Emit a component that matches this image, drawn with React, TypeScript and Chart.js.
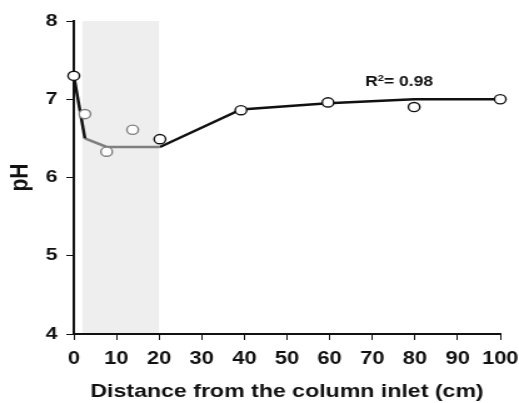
import React, { useEffect, useRef } from "react";
import { Chart, registerables } from "chart.js";

Chart.register(...registerables);

// ---- data ----
const measuredX = [0, 20.2, 39.2, 59.6, 79.8, 100];
const measuredY = [7.3, 6.49, 6.86, 6.96, 6.9, 7.0];
const zoneX = [2.6, 7.7, 13.8];
const zoneY = [6.81, 6.33, 6.61];
const fitInletX = [0, 2.6];
const fitInletY = [7.3, 6.5];
const fitZoneX = [2.6, 7.7, 20.2];
const fitZoneY = [6.5, 6.39, 6.39];
const fitDownX = [20.2, 39.2, 59.6, 79.8, 100];
const fitDownY = [6.39, 6.87, 6.95, 7.0, 7.0];
const xTickValues = [0, 10, 20, 30, 40, 50, 60, 70, 80, 90, 100];
const yTickValues = [4, 5, 6, 7, 8];
const shadedZone = [2, 20];
const r2Value = "0.98";

// ---- layout (figure is horizontally stretched) ----
const PAGE_W = 519;
const PAGE_H = 403;
const STRETCH = 1.25;
const CANVAS_W = Math.round(PAGE_W / STRETCH);
const R2_AT = { x: 68.3, y: 7.17 };

const FONT = '"Liberation Sans", Arial, Helvetica, sans-serif';
const INK = "#111111";
const GRAY = "#7f7f7f";

const pts = (xs: number[], ys: number[]) => xs.map((v, i) => ({ x: v, y: ys[i] }));

const shadePlugin = {
  id: "shade",
  beforeDraw(chart: any) {
    const { ctx, chartArea, scales } = chart;
    const x0 = scales.x.getPixelForValue(shadedZone[0]);
    const x1 = scales.x.getPixelForValue(shadedZone[1]);
    ctx.save();
    ctx.fillStyle = "#eeeeee";
    ctx.fillRect(x0, chartArea.top, x1 - x0, chartArea.bottom - chartArea.top);
    ctx.restore();
  },
};

const r2Plugin = {
  id: "r2",
  afterDatasetsDraw(chart: any) {
    const { ctx, scales } = chart;
    const px = scales.x.getPixelForValue(R2_AT.x);
    const py = scales.y.getPixelForValue(R2_AT.y);
    ctx.save();
    ctx.fillStyle = INK;
    ctx.textAlign = "left";
    ctx.textBaseline = "alphabetic";
    ctx.font = `bold 14px ${FONT}`;
    ctx.fillText("R", px, py);
    let w = ctx.measureText("R").width;
    ctx.font = `bold 9px ${FONT}`;
    ctx.fillText("2", px + w, py - 5);
    w += ctx.measureText("2").width;
    ctx.font = `bold 14px ${FONT}`;
    ctx.fillText("= " + r2Value, px + w, py);
    ctx.restore();
  },
};

export default function App() {
  const canvasRef = useRef<HTMLCanvasElement | null>(null);

  useEffect(() => {
    if (!canvasRef.current) return;
    const pointStyle = {
      pointRadius: 4.6,
      pointBorderWidth: 1.4,
      pointBackgroundColor: "#ffffff",
      showLine: false,
      clip: false,
    };
    const lineStyle = { showLine: true, pointRadius: 0, borderWidth: 2.5, clip: false };
    const chart = new Chart(canvasRef.current, {
      type: "scatter",
      data: {
        datasets: [
          { data: pts(measuredX, measuredY), ...pointStyle, pointBorderColor: INK },
          { data: pts(zoneX, zoneY), ...pointStyle, pointBorderColor: GRAY },
          { data: pts(fitInletX, fitInletY), ...lineStyle, borderColor: INK },
          { data: pts(fitZoneX, fitZoneY), ...lineStyle, borderColor: GRAY },
          { data: pts(fitDownX, fitDownY), ...lineStyle, borderColor: INK },
        ],
      },
      options: {
        responsive: false,
        animation: false,
        layout: { padding: { top: 21, right: 15, bottom: 0, left: 0 } },
        plugins: { legend: { display: false }, tooltip: { enabled: false } },
        scales: {
          x: {
            type: "linear",
            min: 0,
            max: 100,
            afterBuildTicks: (scale: any) => {
              scale.ticks = xTickValues.map((v) => ({ value: v }));
            },
            afterFit: (scale: any) => {
              scale.height = 69;
              scale.paddingLeft = 0;
              scale.paddingRight = 0;
            },
            border: { display: true, color: INK, width: 2 },
            grid: { drawOnChartArea: false, drawTicks: true, tickLength: 6, color: INK, lineWidth: 1 },
            ticks: {
              color: INK,
              padding: 9,
              maxRotation: 0,
              font: { family: FONT, size: 17.5, weight: "bold" },
            },
            title: {
              display: true,
              text: "Distance from the column inlet (cm)",
              color: INK,
              padding: { top: 0, bottom: 0 },
              font: { family: FONT, size: 18.5, weight: "bold" },
            },
          },
          y: {
            type: "linear",
            min: 4,
            max: 8,
            afterBuildTicks: (scale: any) => {
              scale.ticks = yTickValues.map((v) => ({ value: v }));
            },
            afterFit: (scale: any) => {
              scale.width = 59;
              scale.paddingTop = 0;
              scale.paddingBottom = 0;
            },
            border: { display: true, color: INK, width: 2 },
            grid: { drawOnChartArea: false, drawTicks: true, tickLength: 6, color: INK, lineWidth: 1 },
            ticks: {
              color: INK,
              padding: 7,
              font: { family: FONT, size: 17, weight: "bold" },
            },
            title: {
              display: true,
              text: "pH",
              color: INK,
              padding: { top: 4, bottom: 0 },
              font: { family: FONT, size: 21, weight: "bold" },
            },
          },
        },
      },
      plugins: [shadePlugin, r2Plugin],
    } as any);
    return () => chart.destroy();
  }, []);

  return (
    <div style={{ position: "fixed", left: 0, top: 0, width: PAGE_W, height: PAGE_H, background: "#ffffff" }}>
      <canvas
        ref={canvasRef}
        width={CANVAS_W}
        height={PAGE_H}
        style={{ width: `${PAGE_W}px`, height: `${PAGE_H}px`, display: "block" }}
      />
    </div>
  );
}
